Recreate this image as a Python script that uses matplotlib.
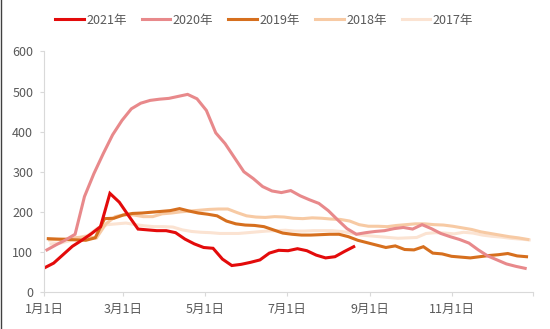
import pandas as pd
import matplotlib.pyplot as plt
import matplotlib.dates as mdates
from matplotlib.lines import Line2D

plt.rcParams['font.family'] = ['Noto Sans CJK SC', 'DejaVu Sans']

# weekly readings, each year laid on a common Jan-Dec calendar
years = ['2021年', '2020年', '2019年', '2018年', '2017年']
first_week = ['2021-01-01', '2021-01-03', '2021-01-04', '2021-01-05', '2021-01-06']

v2021 = [60, 72, 93, 114, 129, 145, 163, 246, 224, 190, 157, 155, 153, 153, 148, 132,
         120, 111, 109, 82, 66, 69, 74, 80, 97, 104, 103, 108, 103, 92, 85, 88, 101, 113]
v2020 = [105, 118, 130, 144, 238, 295, 345, 392, 428, 457, 471, 478, 481, 483, 488, 493,
         482, 453, 397, 370, 335, 300, 283, 263, 252, 248, 253, 240, 230, 221, 203, 180,
         158, 144, 148, 151, 153, 158, 161, 157, 168, 158, 146, 138, 131, 122, 105, 90,
         80, 70, 64, 59]
v2019 = [133, 132, 131, 130, 129, 135, 183, 184, 192, 196, 197, 199, 201, 203, 208, 202,
         197, 194, 190, 177, 170, 167, 166, 163, 155, 147, 144, 142, 142, 143, 144, 144,
         138, 129, 123, 117, 111, 115, 106, 105, 113, 97, 95, 89, 87, 85, 88, 91,
         93, 96, 90, 88]
v2018 = [130, 131, 133, 136, 138, 135, 170, 188, 193, 192, 188, 188, 195, 197, 200, 202,
         204, 206, 207, 207, 198, 190, 187, 186, 188, 187, 184, 183, 185, 184, 182, 181,
         177, 168, 164, 164, 163, 166, 168, 170, 170, 168, 167, 164, 160, 156, 150, 146,
         142, 138, 135, 131]
v2017 = [120, 122, 128, 135, 142, 160, 168, 170, 172, 168, 165, 163, 163, 162, 155, 151,
         149, 148, 146, 146, 146, 148, 150, 152, 153, 154, 152, 152, 153, 153, 153, 151,
         147, 142, 140, 138, 136, 134, 135, 136, 146, 148, 147, 145, 149, 147, 142, 139,
         137, 134, 132, 130]
series = [v2021, v2020, v2019, v2018, v2017]

colors = ['#E30B0B', '#E8898B', '#D66F1E', '#F7CAA4', '#FBE3D2']
tick_dates = ['2021-01-01', '2021-03-01', '2021-05-01', '2021-07-01',
              '2021-09-01', '2021-11-01', '2022-01-01']
tick_labels = ['1月1日', '3月1日', '5月1日', '7月1日', '9月1日', '11月1日', '']

fig = plt.figure(figsize=(5.5, 3.29), dpi=100)
ax = fig.add_axes([0.0805, 0.1125, 0.889, 0.731])

# draw oldest first so 2021 sits on top
for name, start, vals, c in reversed(list(zip(years, first_week, series, colors))):
    x = pd.date_range(start, periods=len(vals), freq='7D')
    ax.plot(x, vals, color=c, lw=2.2, label=name, solid_joinstyle='miter')

ax.set_xlim(pd.Timestamp('2021-01-01'), pd.Timestamp('2022-01-01'))
ax.set_ylim(0, 600)
ax.set_yticks(range(0, 601, 100))
ax.set_xticks(pd.to_datetime(tick_dates))
ax.set_xticklabels(tick_labels)

grey = '#D9D9D9'
for s in ['top', 'right']:
    ax.spines[s].set_visible(False)
for s in ['left', 'bottom']:
    ax.spines[s].set_color(grey)
    ax.spines[s].set_linewidth(0.8)
ax.tick_params(axis='both', colors=grey, length=3, width=0.8, pad=5,
               labelcolor='#595959', labelsize=9)

handles, labels = ax.get_legend_handles_labels()
order = [labels.index(y) for y in years]
fig.legend([handles[i] for i in order], [labels[i] for i in order],
           loc='center', bbox_to_anchor=(0.48, 0.939), ncol=5, frameon=False,
           fontsize=9, handlelength=2.3, handletextpad=0.2, columnspacing=1.2,
           labelcolor='#595959')

fig.add_artist(Line2D([0.001, 0.001], [0, 1], color='#404040', lw=1))

plt.savefig('out.png', dpi=100)
